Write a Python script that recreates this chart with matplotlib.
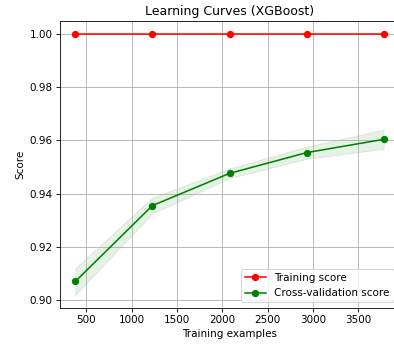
import numpy as np
import matplotlib
matplotlib.use("Agg")
import matplotlib.pyplot as plt

# Learning-curve results for the XGBoost model
train_sizes = [378, 1228, 2079, 2929, 3780]
train_mean = [1.0, 1.0, 1.0, 1.0, 1.0]
train_std = [0.0, 0.0, 0.0, 0.0, 0.0]
cv_mean = [0.9070, 0.9355, 0.9476, 0.9554, 0.9604]
cv_std = [0.0050, 0.0030, 0.0018, 0.0023, 0.0036]

title = "Learning Curves (XGBoost)"
xlabel = "Training examples"
ylabel = "Score"

DPI = 75
fig = plt.figure(figsize=(394 / DPI, 345 / DPI), dpi=DPI)
ax = fig.add_axes([60 / 394, 37.3 / 345, 339 / 394, 286.7 / 345])

tm, ts = np.array(train_mean), np.array(train_std)
cm, cs = np.array(cv_mean), np.array(cv_std)

ax.grid(True)
ax.fill_between(train_sizes, tm - ts, tm + ts, alpha=0.1, color="r")
ax.fill_between(train_sizes, cm - cs, cm + cs, alpha=0.1, color="g")
ax.plot(train_sizes, tm, "o-", color="r", label="Training score")
ax.plot(train_sizes, cm, "o-", color="g", label="Cross-validation score")

ax.set_title(title)
ax.set_xlabel(xlabel)
ax.set_ylabel(ylabel)
ax.legend(loc="best")

fig.savefig("out.png", dpi=DPI)
